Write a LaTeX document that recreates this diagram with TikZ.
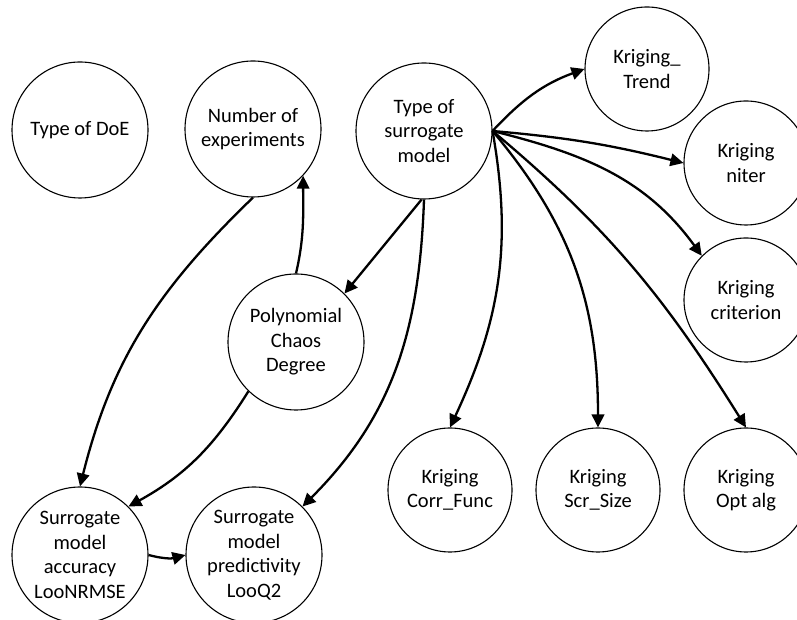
\documentclass[tikz,border=0pt]{standalone}
\usepackage{fontspec}
\setmainfont{Carlito}
\usetikzlibrary{arrows.meta}
\begin{document}
\begin{tikzpicture}[x=1pt,y=1pt,
  big/.style={circle,draw,line width=1.1pt,minimum size=136pt,inner sep=0pt,align=center,
    font=\fontsize{20.5}{24.5}\selectfont},
  small/.style={big,minimum size=124pt},
  arr/.style={line width=2.3pt,-{Triangle[length=13pt,width=12.5pt]}}]
\useasboundingbox (0,0) rectangle (797,620);
\node[big] (doe) at (80,490) {Type of DoE};
\node[big] (nexp) at (253,491) {Number of\\experiments};
\node[big] (surr) at (424,489) {Type of\\surrogate\\model};
\node[small] (trend) at (647,551) {Kriging\_\\Trend};
\node[small] (niter) at (746,457) {Kriging\\niter};
\node[small] (crit) at (746,320) {Kriging\\criterion};
\node[big] (poly) at (296,278) {Polynomial\\Chaos\\Degree};
\node[small] (corr) at (450,130) {Kriging\\Corr\_Func};
\node[small] (scr) at (598,130) {Kriging\\Scr\_Size};
\node[small] (opt) at (746,130) {Kriging\\Opt alg};
\node[big] (acc) at (80,65) {Surrogate\\model\\accuracy\\LooNRMSE};
\node[big] (pred) at (254,65) {Surrogate\\model\\predictivity\\LooQ2};

\draw[arr] (surr.east) to[out=47,in=200] (trend.west);
\draw[arr] (surr.east) to[out=-5,in=166] (niter.west);
\draw[arr] (surr.east) to[out=-14,in=126] (crit.135);
\draw[arr] (surr.east) to[out=-80,in=65] (corr.north);
\draw[arr] (surr.east) to[out=-50,in=90] (scr.north);
\draw[arr] (surr.east) to[out=-40,in=122] (opt.north);
\draw[arr] (surr.268) -- (poly.45);
\draw[arr] (surr.south) to[out=-92,in=45] (pred.45);
\draw[arr] (poly.north) to[out=77,in=-90] (nexp.-43);
\draw[arr] (nexp.south) to[out=-136,in=76] (acc.north);
\draw[arr] (poly.226) to[out=-122,in=29] (acc.45);
\draw[arr] (acc.east) to[bend right=15] (pred.west);
\end{tikzpicture}
\end{document}
